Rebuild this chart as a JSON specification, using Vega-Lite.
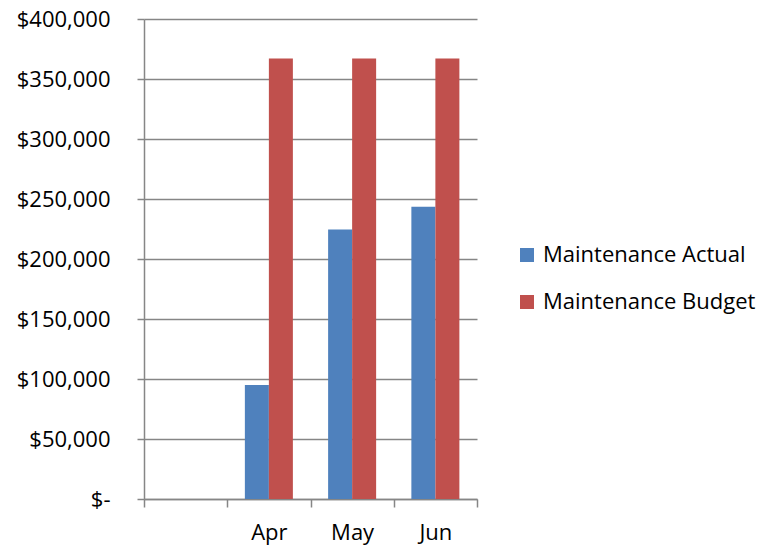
{
  "$schema": "https://vega.github.io/schema/vega-lite/v6.json",
  "autosize": "none",
  "width": 333,
  "height": 480,
  "padding": {"left": 144, "top": 19, "right": 292, "bottom": 48},
  "background": "white",
  "config": {
    "font": "Open Sans",
    "view": {"stroke": null}
  },
  "data": {
    "values": [
      {"month": "Apr", "series": "Maintenance Actual", "value": 95000},
      {"month": "Apr", "series": "Maintenance Budget", "value": 367000},
      {"month": "May", "series": "Maintenance Actual", "value": 224500},
      {"month": "May", "series": "Maintenance Budget", "value": 367000},
      {"month": "Jun", "series": "Maintenance Actual", "value": 243500},
      {"month": "Jun", "series": "Maintenance Budget", "value": 367000}
    ]
  },
  "mark": {"type": "bar"},
  "encoding": {
    "x": {
      "field": "month",
      "type": "nominal",
      "sort": null,
      "scale": {"domain": [" ", "Apr", "May", "Jun"], "paddingInner": 0, "paddingOuter": 0},
      "axis": {
        "title": null,
        "labelAngle": 0,
        "labelFontSize": 22,
        "labelColor": "black",
        "labelPadding": 15,
        "tickBand": "extent",
        "tickSize": 8,
        "tickColor": "#868686",
        "tickWidth": 1.5,
        "domainColor": "#868686",
        "domainWidth": 1.5
      }
    },
    "xOffset": {
      "field": "series",
      "type": "nominal",
      "scale": {"paddingInner": 0, "paddingOuter": 0.734}
    },
    "y": {
      "field": "value",
      "type": "quantitative",
      "scale": {"domain": [0, 400000], "nice": false},
      "axis": {
        "title": null,
        "values": [0, 50000, 100000, 150000, 200000, 250000, 300000, 350000, 400000],
        "labelExpr": "datum.value == 0 ? '$-\u2007' : '$' + format(datum.value, ',')",
        "labelFontSize": 22,
        "labelColor": "black",
        "labelPadding": 27,
        "tickSize": 7,
        "tickColor": "#868686",
        "tickWidth": 1.5,
        "domainColor": "#868686",
        "domainWidth": 1.5,
        "grid": true,
        "gridColor": "#868686",
        "gridWidth": 1.5
      }
    },
    "color": {
      "field": "series",
      "type": "nominal",
      "scale": {"domain": ["Maintenance Actual", "Maintenance Budget"], "range": ["#4F81BD", "#C0504D"]},
      "legend": {
        "title": null,
        "orient": "none",
        "legendX": 372,
        "legendY": 225,
        "symbolType": "square",
        "symbolSize": 196,
        "symbolStrokeWidth": 0,
        "symbolOpacity": 1,
        "labelFontSize": 22,
        "labelColor": "black",
        "labelOffset": 5,
        "rowPadding": 25,
        "labelLimit": 400
      }
    }
  }
}
